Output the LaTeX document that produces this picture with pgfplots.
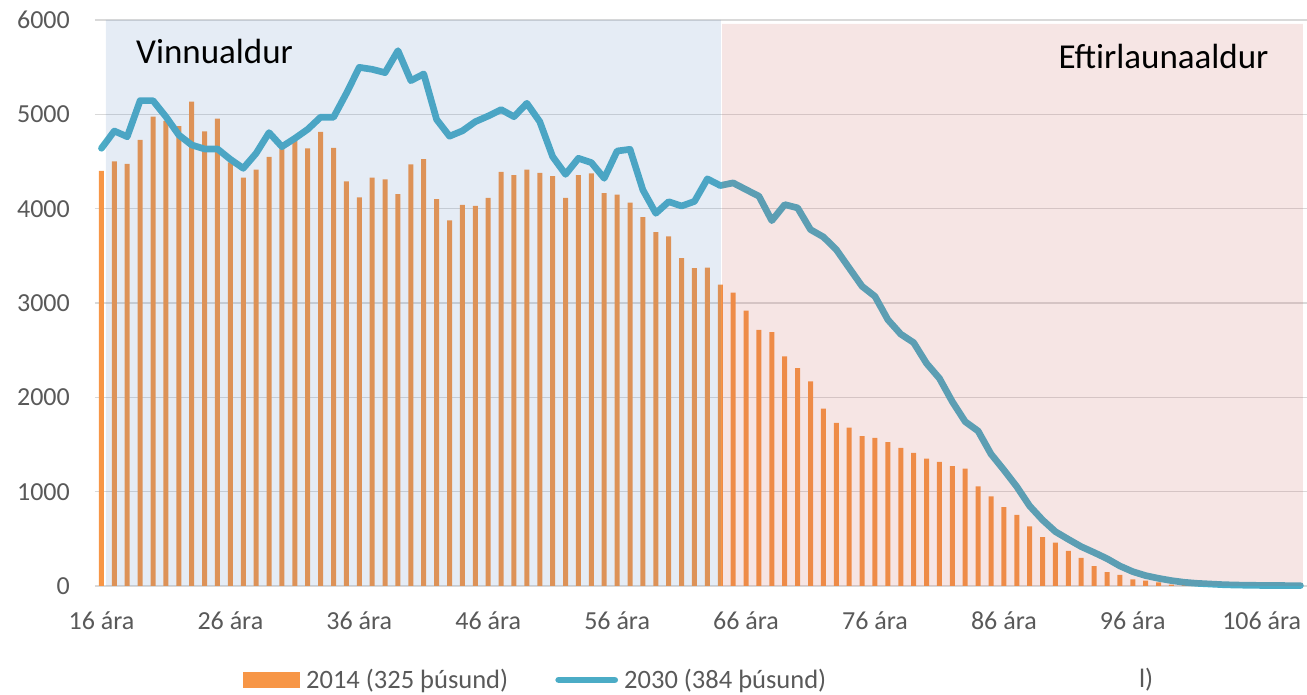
\documentclass[border=0pt]{standalone}
\usepackage{fontspec}
\setmainfont{Carlito}
\usepackage{pgfplots}
\usepackage{pgfplotstable}
\pgfplotsset{compat=1.18}
\definecolor{barorange}{HTML}{F79646}
\definecolor{lineaqua}{HTML}{4BACC6}
\definecolor{shblue}{HTML}{4F81BD}
\definecolor{shred}{HTML}{C0504D}
\definecolor{gridgray}{HTML}{D9D9D9}
\definecolor{ticktext}{HTML}{595959}

\pgfplotstableread{
age pop
16 4400
17 4500
18 4475
19 4730
20 4975
21 4930
22 4875
23 5135
24 4820
25 4955
26 4490
27 4330
28 4415
29 4550
30 4645
31 4720
32 4640
33 4815
34 4645
35 4290
36 4120
37 4330
38 4310
39 4155
40 4470
41 4525
42 4100
43 3875
44 4040
45 4030
46 4115
47 4390
48 4355
49 4415
50 4380
51 4345
52 4115
53 4355
54 4375
55 4165
56 4150
57 4065
58 3910
59 3750
60 3705
61 3475
62 3370
63 3375
64 3195
65 3110
66 2920
67 2715
68 2690
69 2435
70 2310
71 2170
72 1880
73 1730
74 1680
75 1590
76 1570
77 1525
78 1465
79 1410
80 1350
81 1315
82 1270
83 1245
84 1057
85 950
86 837
87 753
88 633
89 519
90 459
91 371
92 297
93 210
94 148
95 117
96 71
97 57
98 39
99 14
100 8
101 5
102 3
103 2
104 1
105 1
106 0
107 0
108 0
109 0
}\popA

\pgfplotstableread{
age pop
16 4640
17 4823
18 4763
19 5145
20 5145
21 4975
22 4781
23 4675
24 4633
25 4633
26 4523
27 4428
28 4587
29 4806
30 4657
31 4745
32 4841
33 4970
34 4968
35 5223
36 5498
37 5477
38 5442
39 5675
40 5357
41 5428
42 4945
43 4768
44 4825
45 4922
46 4982
47 5050
48 4975
49 5117
50 4922
51 4551
52 4364
53 4534
54 4488
55 4322
56 4611
57 4629
58 4198
59 3951
60 4074
61 4028
62 4077
63 4316
64 4245
65 4273
66 4202
67 4132
68 3873
69 4043
70 4008
71 3778
72 3700
73 3566
74 3371
75 3177
76 3070
77 2823
78 2670
79 2580
80 2360
81 2201
82 1954
83 1742
84 1643
85 1399
86 1230
87 1053
88 848
89 700
90 576
91 495
92 417
93 355
94 290
95 212
96 152
97 110
98 81
99 57
100 39
101 28
102 21
103 14
104 10
105 8
106 6
107 5
108 4
109 4
}\popB

\begin{document}
\begin{tikzpicture}
\begin{axis}[
  scale only axis, width=1212pt, height=566pt,
  at={(0,0)}, anchor=south west,
  xmin=15.5, xmax=109.5, ymin=0, ymax=6000,
  clip=false,
  axis line style={draw=none},
  tick style={draw=none},
  ymajorgrids,
  major grid style={draw=gridgray, line width=1.4pt},
  ytick={0,1000,2000,3000,4000,5000,6000},
  xtick={16,26,36,46,56,66,76,86,96,106},
  xticklabels={16 ára,26 ára,36 ára,46 ára,56 ára,66 ára,76 ára,86 ára,96 ára,106 ára},
  /pgf/number format/assume math mode=true,
  /pgf/number format/1000 sep={},
  yticklabel style={font=\fontsize{26}{30}\selectfont, text=ticktext, inner sep=0pt, anchor=east, xshift=-25pt},
  xticklabel style={font=\fontsize{26}{30}\selectfont, text=ticktext, inner sep=0pt, anchor=base, yshift=-44pt},
  legend style={at={(axis description cs:0.1221,-0.166)}, anchor=west, draw=none, fill=none,
    inner sep=0pt, font=\fontsize{26.5}{30}\selectfont, text=ticktext,
    nodes={inner sep=0pt},
    /tikz/every odd column/.append style={column sep=6pt},
    /tikz/every even column/.append style={column sep=47pt}},
  legend columns=-1,
  legend cell align=left,
]
\addplot[ybar, bar width=5pt, fill=barorange, draw=none,
  legend image code/.code={\fill[barorange, draw=none] (0pt,-8pt) rectangle (57pt,8pt);}]
  table[x=age,y=pop]{\popA};
\addlegendentry{2014 (325 þúsund)}
\addplot[lineaqua, line width=6.7pt, line join=round, line cap=round,
  legend image code/.code={\path[draw=none, fill=none] (0pt,-8pt) rectangle (63pt,8pt);
    \draw[lineaqua, line width=6.7pt, line cap=round] (3.5pt,0pt) -- (59.5pt,0pt);}]
  table[x=age,y=pop]{\popB};
\addlegendentry{2030 (384 þúsund)}
\addplot[fill=shblue, fill opacity=0.15, draw=none, forget plot]
  coordinates {(16.35,0) (16.35,6000) (64.05,6000) (64.05,0)} \closedcycle;
\addplot[fill=shred, fill opacity=0.15, draw=none, forget plot]
  coordinates {(64.15,0) (64.15,5960) (109.2,5960) (109.2,0)} \closedcycle;
\node[anchor=base west, inner sep=0pt, font=\fontsize{35}{42}\selectfont] at (axis cs:18.68,5543) {Vinnualdur};
\node[anchor=base west, inner sep=0pt, font=\fontsize{35}{42}\selectfont] at (axis cs:90.23,5488) {Eftirlaunaaldur};
\node[anchor=west, inner sep=0pt, font=\fontsize{26.5}{30}\selectfont, text=ticktext] at (axis description cs:0.8614,-0.166) {l)};
\end{axis}
\pgfresetboundingbox
\path[use as bounding box] (-95pt,-109pt) rectangle (1212pt,586pt);
\end{tikzpicture}
\end{document}
